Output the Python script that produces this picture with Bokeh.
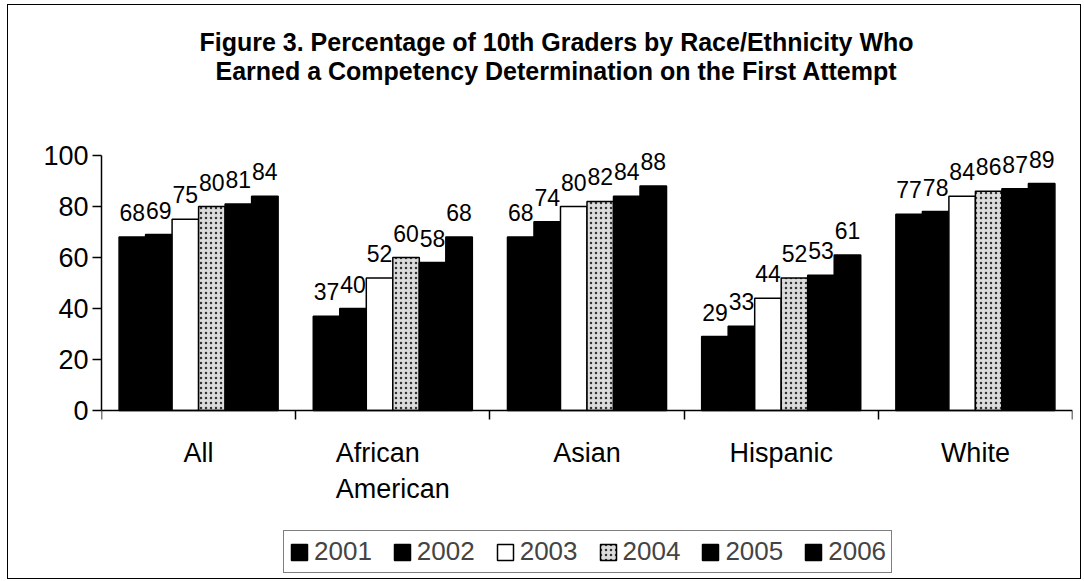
from bokeh.plotting import figure
from bokeh.models import (ColumnDataSource, Range1d, FixedTicker, Legend, LegendItem,
                          LabelSet)
from bokeh.transform import dodge
from bokeh.core.properties import value
from bokeh.embed import file_html
from bokeh.resources import INLINE

# ---- data ----
categories = ["All", "African American", "Asian", "Hispanic", "White"]
tick_labels = ["All", "African\nAmerican", "Asian", "Hispanic", "White"]
years = ["2001", "2002", "2003", "2004", "2005", "2006"]
v2001 = [68, 37, 68, 29, 77]
v2002 = [69, 40, 74, 33, 78]
v2003 = [75, 52, 80, 44, 84]
v2004 = [80, 60, 82, 52, 86]
v2005 = [81, 58, 84, 53, 87]
v2006 = [84, 68, 88, 61, 89]
series = [v2001, v2002, v2003, v2004, v2005, v2006]
y_ticks = [0, 20, 40, 60, 80, 100]
title_lines = ["Figure 3. Percentage of 10th Graders by Race/Ethnicity Who",
               "Earned a Competency Determination on the First Attempt"]

FONT = "Liberation Sans"
fills = ["black", "black", "white", "#dcdcdc", "black", "black"]
hatches = [None, None, None, "dot", None, None]

# ---- layout (pixels) ----
FIG_TOP, FIG_LEFT, FIG_W, FIG_H = 5, 8, 1072, 573
FRAME_LEFT, FRAME_RIGHT = 101, 1072
Y0_PX, PX_PER_UNIT = 410, 2.55          # page y of value 0, pixels per unit
frame_top_px, frame_bottom_px = FIG_TOP, FIG_TOP + FIG_H


def y_of(py):
    return (Y0_PX - py) / PX_PER_UNIT


ncat = len(categories)
centers = [i + 0.5 for i in range(ncat)]
bounds = [float(i) for i in range(ncat + 1)]

p = figure(x_range=Range1d(0, ncat),
           y_range=Range1d(y_of(frame_bottom_px), y_of(frame_top_px)),
           width=FIG_W, height=FIG_H, output_backend="svg", toolbar_location=None,
           title=None, x_axis_location="above",
           min_border_left=FRAME_LEFT - FIG_LEFT,
           min_border_right=FIG_LEFT + FIG_W - FRAME_RIGHT,
           min_border_top=0, min_border_bottom=0)
p.margin = (FIG_TOP, 0, 0, FIG_LEFT)
p.styles = {"outline": "1.5px solid black"}
p.grid.visible = False
p.outline_line_color = None
p.background_fill_color = "white"
p.border_fill_color = "white"

w = 0.1365
items = []
for k, (yr, vals) in enumerate(zip(years, series)):
    off = (k - 2.5) * w
    src = ColumnDataSource(dict(cat=categories, xc=centers, val=vals,
                                lab=[str(v) for v in vals]))
    kw = {}
    if hatches[k]:
        kw = dict(hatch_pattern=hatches[k], hatch_color="#333333", hatch_scale=5, hatch_weight=1)
    r = p.vbar(x=dodge("xc", off), top="val", width=w, source=src,
               fill_color=fills[k], line_color="black", line_width=1.5, **kw)
    items.append(LegendItem(label=yr, renderers=[r]))
    p.add_layout(LabelSet(x=dodge("xc", off), y="val", text="lab", source=src,
                          text_align="center", text_baseline="alphabetic", y_offset=16,
                          text_font=value(FONT), text_font_size=value("23px"),
                          text_color="black"))

# y axis
p.yaxis.ticker = FixedTicker(ticks=y_ticks)
p.yaxis.bounds = (y_ticks[0], y_ticks[-1])
p.yaxis.minor_tick_line_color = None
p.yaxis.major_tick_out = 9
p.yaxis.major_tick_in = 0
p.yaxis.axis_line_width = 1.5
p.yaxis.major_tick_line_width = 1.5
p.yaxis.major_label_text_font = FONT
p.yaxis.major_label_text_font_size = "27px"
p.yaxis.major_label_standoff = 4
p.yaxis.major_label_text_color = "black"

# x axis at value 0: tick marks at category boundaries
xax = p.xaxis[0]
xax.fixed_location = 0
xax.ticker = FixedTicker(ticks=[], minor_ticks=bounds)
xax.major_tick_out = 0
xax.major_tick_in = 0
xax.minor_tick_out = 0
xax.minor_tick_in = 9
xax.minor_tick_line_color = "black"
xax.minor_tick_line_width = 1.5
xax.axis_line_width = 1.5
xax.major_label_standoff = 0

# category labels under the axis
cat_src = ColumnDataSource(dict(xc=centers, y0=[0] * ncat, lab=tick_labels))
p.add_layout(LabelSet(x="xc", y="y0", text="lab", source=cat_src, text_align="center",
                      text_baseline="top", y_offset=-27, text_font=value(FONT),
                      text_font_size=value("27px"), text_color="black"))

# title (two lines)
tx = (556 - FRAME_LEFT) / ((FRAME_RIGHT - FRAME_LEFT) / ncat)
title_src = ColumnDataSource(dict(x=[tx, tx], y=[y_of(50), y_of(79)], t=title_lines))
p.add_layout(LabelSet(x="x", y="y", text="t", source=title_src, text_align="center",
                      text_baseline="alphabetic", text_font=value(FONT),
                      text_font_size=value("25px"), text_font_style="bold",
                      text_color="black"))

legend = Legend(items=items, orientation="horizontal",
                location=(283 - FRAME_LEFT, frame_bottom_px - 573),
                label_text_font=FONT, label_text_font_size="26px",
                glyph_width=20, glyph_height=20, label_standoff=5, spacing=20,
                padding=5, margin=0, border_line_color="black", border_line_width=1.5,
                background_fill_color="white", background_fill_alpha=1.0)
p.add_layout(legend, "center")

open("out.html", "w").write(file_html(p, INLINE))
